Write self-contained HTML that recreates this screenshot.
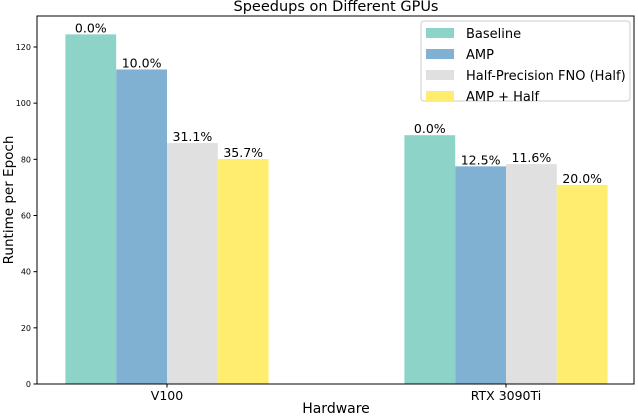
<!DOCTYPE html>
<html><head><meta charset="utf-8"><style>
body{margin:0;background:#fff;}
svg{display:block;font-family:"DejaVu Sans","Liberation Sans",sans-serif;}
</style></head><body>
<svg id="chart" width="638" height="416">
<text x="336" y="11" text-anchor="middle" font-size="14.5">Speedups on Different GPUs</text>
<g id="plot"></g>
<text x="336" y="413" text-anchor="middle" font-size="14">Hardware</text>
<text transform="translate(13,200) rotate(-90)" text-anchor="middle" font-size="13.5">Runtime per Epoch</text>
</svg>
<script>
const categories = ["V100", "RTX 3090Ti"];
const seriesNames = ["Baseline", "AMP", "Half-Precision FNO (Half)", "AMP + Half"];
const seriesColors = ["#8dd3c7", "#80b1d3", "#e0e0e0", "#ffed6f"];
const baseline = [124.5, 88.6];
const amp = [112.0, 77.5];
const half = [85.8, 78.3];
const ampHalf = [80.1, 70.9];
const labelsV100 = ["0.0%", "10.0%", "31.1%", "35.7%"];
const labelsRTX = ["0.0%", "12.5%", "11.6%", "20.0%"];
const yTicks = [0, 20, 40, 60, 80, 100, 120];

const NS = "http://www.w3.org/2000/svg";
const plot = document.getElementById("plot");
const L = 37, R = 634, T = 16, B = 384;
const y = v => B - v * (B - 47) / 120;
const groupCenter = [167, 506];
const bw = 50.8;
const x = (gi, si) => groupCenter[gi] + (si - 2) * bw;
function mk(tag, attrs) { const e = document.createElementNS(NS, tag); for (const k in attrs) e.setAttribute(k, attrs[k]); plot.appendChild(e); return e; }

const allSeries = [baseline, amp, half, ampHalf];
const allLabels = [labelsV100, labelsRTX];
allSeries.forEach((s, si) => {
  s.forEach((v, gi) => {
    const r = mk("rect", { x: x(gi, si), y: y(v), width: bw, height: B - y(v), fill: seriesColors[si] });
    
    
    const t = mk("text", { x: x(gi, si) + bw / 2, y: y(v) - 2, "text-anchor": "middle", "font-size": "12.5" });
    t.textContent = allLabels[gi][si];
    
    
  });
});
const f = mk("rect", { x: L, y: T, width: R - L, height: B - T, fill: "none", stroke: "#000", "stroke-width": 1 });


yTicks.forEach(v => {
  const tk = mk("line", { x1: L - 3.5, x2: L, y1: y(v), y2: y(v), stroke: "#000" });
  
  
  const tl = mk("text", { x: L - 6, y: y(v) + 3, "text-anchor": "end", "font-size": "8" });
  tl.textContent = v;
  
  
});
categories.forEach((c, gi) => {
  const tk = mk("line", { x1: groupCenter[gi], x2: groupCenter[gi], y1: B, y2: B + 3.5, stroke: "#000" });
  
  
  const tl = mk("text", { x: groupCenter[gi], y: B + 16, "text-anchor": "middle", "font-size": "12.5" });
  tl.textContent = c;
  
  
});
const lg = mk("rect", { x: 421, y: 21, width: 209, height: 80, fill: "#fff", stroke: "#ccc", rx: 3 });


seriesNames.forEach((n, i) => {
  const yy = 28 + i * 21;
  const sw = mk("rect", { x: 426, y: yy, width: 28, height: 10, fill: seriesColors[i] });
  
  
  const t = mk("text", { x: 466, y: yy + 10, "font-size": "13" });
  t.textContent = n;
  
  
});
</script>
</body></html>
